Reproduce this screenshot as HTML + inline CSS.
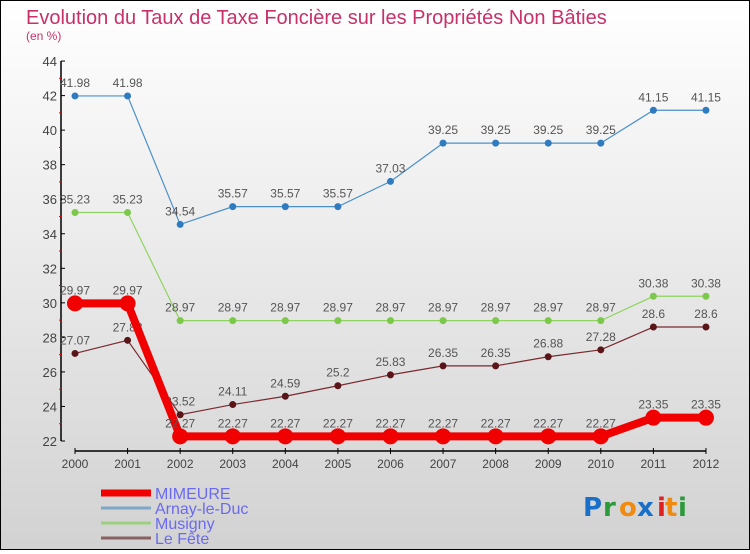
<!DOCTYPE html>
<html><head><meta charset="utf-8"><style>
html,body{margin:0;padding:0}
body{width:750px;height:550px;overflow:hidden;font-family:"Liberation Sans",sans-serif}
#wrap{position:relative;width:748px;height:548px;border:1px solid #000;background:linear-gradient(#ffffff,#d2d2d2)}
</style></head><body>
<div id="wrap">
<svg id="chart" width="748" height="548" xmlns="http://www.w3.org/2000/svg" font-family="'Liberation Sans',sans-serif">
<text x="25" y="23" font-size="20" fill="#c8306a">Evolution du Taux de Taxe Foncière sur les Propriétés Non Bâties</text>
<text x="25" y="39" font-size="12" fill="#c8306a">(en %)</text>
<g id="axes"></g><g id="series"></g><g id="legend"></g>
<g font-size="26" font-weight="bold" font-family="'DejaVu Sans',sans-serif">
<text x="582" y="515" fill="#1a6fc8">P</text><text x="602" y="515" fill="#2a9a3a">r</text><text x="618" y="515" fill="#f08a10">o</text><text x="636" y="515" fill="#1a6fc8">x</text><text x="656" y="515" fill="#e02020">i</text><text x="664" y="515" fill="#f08a10">t</text><text x="677" y="515" fill="#2a9a3a">i</text>
</g>
</svg>
</div>
<script>
const years=[2000,2001,2002,2003,2004,2005,2006,2007,2008,2009,2010,2011,2012];
const yTicks=[22,24,26,28,30,32,34,36,38,40,42,44];
const seriesNames=["MIMEURE","Arnay-le-Duc","Musigny","Le Fête"];
const mimeure=[29.97,29.97,22.27,22.27,22.27,22.27,22.27,22.27,22.27,22.27,22.27,23.35,23.35];
const arnay=[41.98,41.98,34.54,35.57,35.57,35.57,37.03,39.25,39.25,39.25,39.25,41.15,41.15];
const musigny=[35.23,35.23,28.97,28.97,28.97,28.97,28.97,28.97,28.97,28.97,28.97,30.38,30.38];
const lefete=[27.07,27.83,23.52,24.11,24.59,25.2,25.83,26.35,26.35,26.88,27.28,28.6,28.6];
const NS="http://www.w3.org/2000/svg";
function X(i){return 74+i*52.58;}
function Y(v){return 440-(v-22)*17.27;}
function mk(tag,attrs,parent){const e=document.createElementNS(NS,tag);for(const k in attrs)e.setAttribute(k,attrs[k]);parent.appendChild(e);return e;}
const axes=document.getElementById('axes');
let a=mk('line',{x1:60,y1:60,x2:60,y2:440,stroke:'#000','stroke-width':1.5},axes);


a=mk('line',{x1:74,y1:450,x2:705,y2:450,stroke:'#000','stroke-width':1.5},axes);


yTicks.forEach(v=>{
  mk('line',{x1:60,y1:Y(v),x2:64,y2:Y(v),stroke:'#000'},axes);
  if(v<44) mk('line',{x1:58,y1:Y(v+1),x2:61,y2:Y(v+1),stroke:'#e00'},axes);
  const t=mk('text',{x:56,y:Y(v)+5,'text-anchor':'end','font-size':13,fill:'#444'},axes);
  t.textContent=v;
  
  
});
years.forEach((yr,i)=>{
  mk('line',{x1:X(i),y1:447,x2:X(i),y2:453,stroke:'#000'},axes);
  const t=mk('text',{x:X(i),y:467,'text-anchor':'middle','font-size':12,fill:'#444'},axes);
  t.textContent=yr;
  
  
});
const sg=document.getElementById('series');
const defs=[[arnay,'#4a90c8','#2e7bbf',1.2,3.5,'arnay-le-duc'],[musigny,'#8fd460','#7cc84a',1.2,3.5,'musigny'],[lefete,'#7a2a30','#5a1518',1.2,3.5,'le-fete'],[mimeure,'#f00000','#f00000',8,8,'mimeure']];
defs.forEach(([d,lc,pc,w,r,name])=>{
  const g=mk('g',{},sg);
  
  
  const p=mk('polyline',{points:d.map((v,i)=>X(i)+','+Y(v)).join(' '),fill:'none',stroke:lc,'stroke-width':w},g);
  
  
  d.forEach((v,i)=>{
    const c=mk('circle',{cx:X(i),cy:Y(v),r:r,fill:pc},g);
    
    
    const t=mk('text',{x:X(i),y:Y(v)-9,'text-anchor':'middle','font-size':12,fill:'#555'},g);
    t.textContent=v;
    
    
  });
});
const lg=document.getElementById('legend');
const lc=['#f00000','#7fa8c8','#9ccf80','#8a6060'],lw=[7,3,3,3];
seriesNames.forEach((n,i)=>{
  const y=492+i*15;
  const g=mk('g',{},lg);
  
  
  mk('line',{x1:100,y1:y,x2:150,y2:y,stroke:lc[i],'stroke-width':lw[i]},g);
  const t=mk('text',{x:154,y:y+6,'font-size':16,fill:'#6a6af0'},g);
  t.textContent=n;
});
</script>
</body></html>
